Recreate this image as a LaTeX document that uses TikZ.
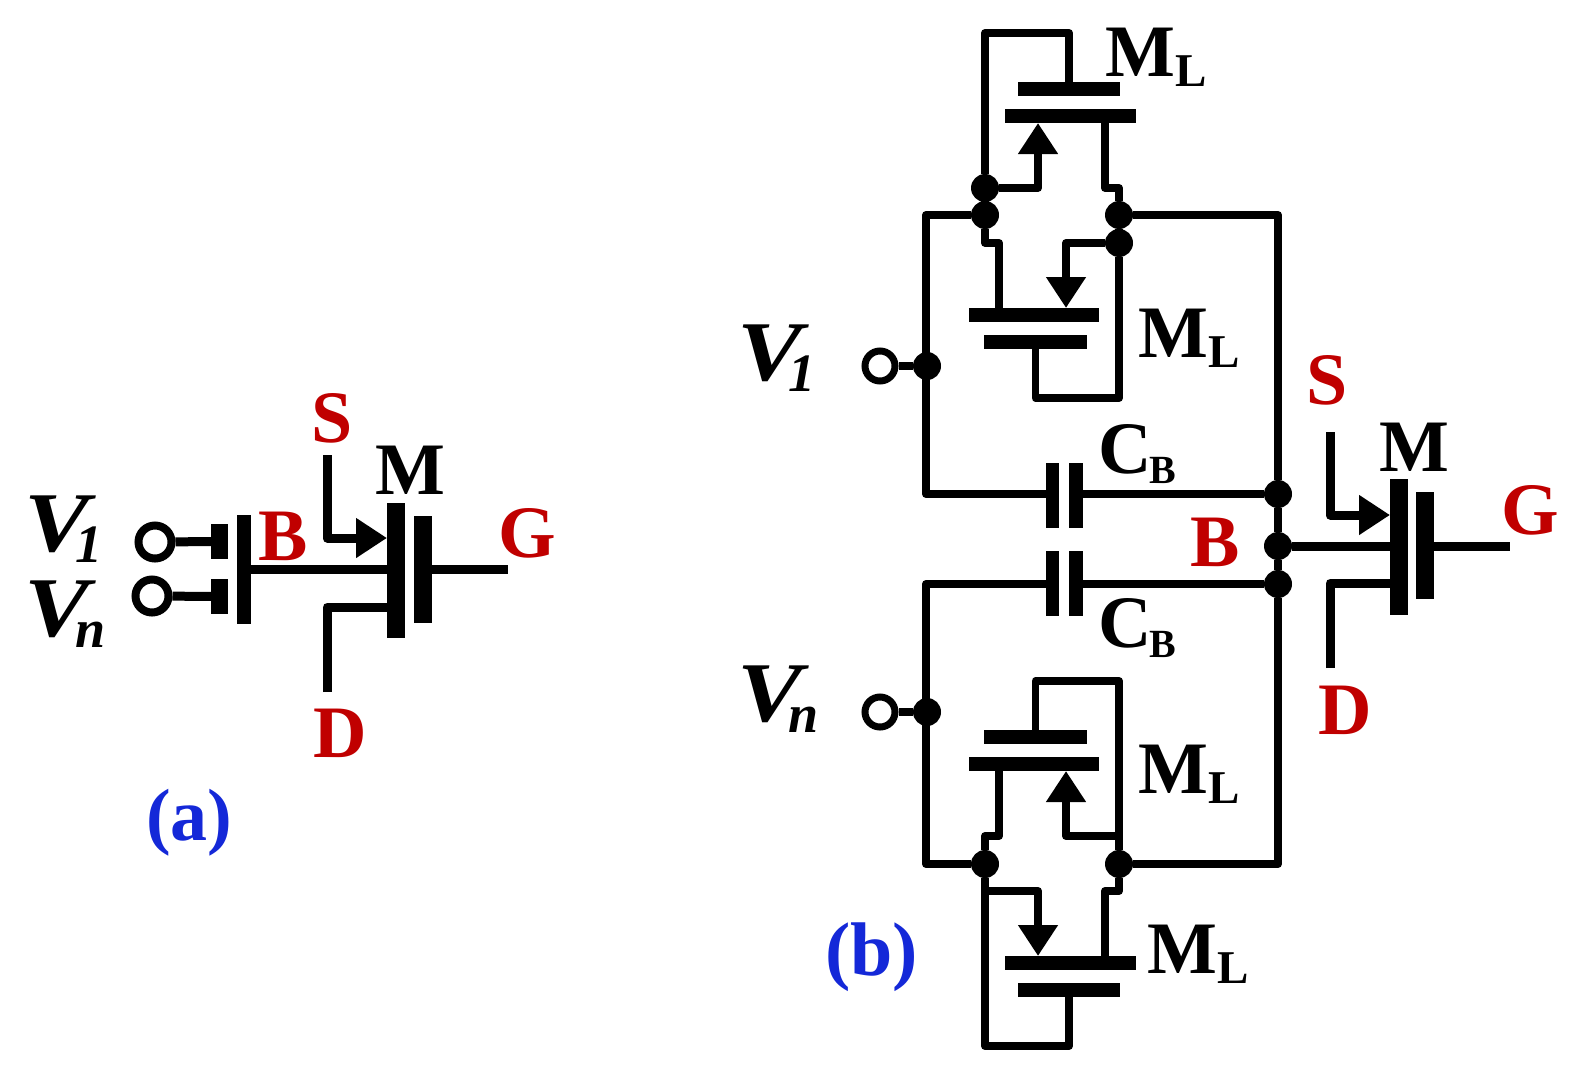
\documentclass[tikz,border=0pt]{standalone}
\usepackage{fontspec}
\setmainfont{Liberation Serif}
\usetikzlibrary{arrows.meta,positioning}
\definecolor{termred}{HTML}{C00000}
\definecolor{capblue}{HTML}{1428D8}
\newcommand{\MLtext}[2]{\fontsize{74}{74}\selectfont #1\raisebox{-10pt}{\fontsize{47}{47}\selectfont #2}}
\newcommand{\CBtext}[2]{\fontsize{74}{74}\selectfont #1\hspace{-2pt}\raisebox{-10pt}{\fontsize{40}{40}\selectfont #2}}
\newcommand{\Vtext}[1]{\fontsize{85}{85}\selectfont\itshape\scalebox{1.15}[1]{V}\hspace{-14pt}\raisebox{-11pt}{\fontsize{54}{54}\selectfont #1}}
\tikzset{
	wire/.style={line width=7.8pt,line join=round},
	wirethick/.style={line width=9pt,line join=round},
	plate/.style={fill=black,inner sep=0pt,outer sep=0pt},
	dot/.style={circle,fill=black,inner sep=0pt,minimum size=28pt},
	port/.style={circle,draw=black,fill=white,line width=7pt,inner sep=0pt,minimum size=30pt},
	portbig/.style={port,line width=8pt,minimum size=33pt},
	txt/.style={anchor=base west,inner sep=0pt,font=\bfseries\fontsize{74}{74}\selectfont},
	term/.style={txt,text=termred},
	caption/.style={txt,text=capblue},
	tip/.style={-{Triangle[length=31pt,width=38pt]}},
}
\begin{document}
\begin{tikzpicture}[x=1pt,y=-1pt]
	\useasboundingbox (0,0) rectangle (1581,1073);

	% (a)
	\node[plate,minimum width=14pt,minimum height=109pt] (bodyA) at (244,569.5) {};
	\node[plate,minimum width=18pt,minimum height=135pt] (chanA) at (396,570.5) {};
	\node[plate,minimum width=18pt,minimum height=107pt] (gateA) at (423,569.5) {};
	\node[plate,minimum width=17pt,minimum height=35pt] (tabOneA) at (219.5,541.5) {};
	\node[plate,minimum width=17pt,minimum height=35pt] (tabTwoA) at (219.5,596.5) {};
	\node[portbig] (portOneA) at (155,542) {};
	\node[portbig] (portTwoA) at (152,596) {};
	\coordinate (sTopA) at (327,455);
	\coordinate (sTipA) at (387,538);
	\coordinate (dEndA) at (327,692);
	\coordinate (dGateA) at (387,607);
	\coordinate (gEndA) at (508,569);
	\coordinate (busA) at (0,569);
	\draw[wirethick] (bodyA.east |- busA) -- (chanA.west |- busA);
	\draw[wirethick] (gateA.east |- busA) -- (gEndA);
	\draw[wirethick] (portOneA) -- (tabOneA);
	\draw[wirethick] (portTwoA) -- (tabTwoA);
	\draw[wirethick,tip] (sTopA) |- (sTipA);
	\draw[wirethick] (dEndA) |- (dGateA);

	\node[term] (sA) at (311,442) {S};
	\node[txt] (mA) at (375,494) {M};
	\node[term] (bA) at (258,560) {B};
	\node[term] (gA) at (498,557) {G};
	\node[term] (dA) at (313,757) {D};
	\node[txt] (vOneA) at (24,551) {\Vtext{1}};
	\node[txt] (vTwoA) at (24,636) {\Vtext{n}};
	\node[caption,font=\bfseries\fontsize{74}{74}\selectfont] (capA) at (146,840) {(a)};

	% (b) rails and caps
	\node[dot] (railTL) at (985,215) {};
	\node[dot] (railTR) at (1119,215) {};
	\node[dot] (railBL) at (985,864) {};
	\node[dot] (railBR) at (1119,864) {};
	\node[dot] (inOne) at (927,366) {};
	\node[dot] (inTwo) at (927,712) {};
	\node[port] (portOne) at (880,366) {};
	\node[port] (portTwo) at (880,712) {};
	\node[dot] (capTop) at (1278,494) {};
	\node[dot] (bus) at (1278,546) {};
	\node[dot] (capBot) at (1278,584) {};
	\node[plate,minimum width=13pt,minimum height=65pt] (capTopL) at (1052.5,495.5) {};
	\node[plate,minimum width=14pt,minimum height=65pt] (capTopR) at (1076,495.5) {};
	\node[plate,minimum width=13pt,minimum height=65pt] (capBotL) at (1052.5,583.5) {};
	\node[plate,minimum width=14pt,minimum height=65pt] (capBotR) at (1076,583.5) {};
	\coordinate (leftTop) at (926,494);
	\coordinate (leftBot) at (926,584);
	\draw[wire] (railTL) -| (leftTop) -- (capTopL.center |- leftTop);
	\draw[wire] (capTopR.center |- capTop) -- (capTop);
	\draw[wire] (railBL) -| (leftBot) -- (capBotL.center |- leftBot);
	\draw[wire] (capBotR.center |- capBot) -- (capBot);
	\draw[wire] (railTR) -| (capTop);
	\draw[wire] (capTop) -- (bus);
	\draw[wire] (bus) -- (capBot);
	\draw[wire] (railBR) -| (capBot);
	\draw[wire] (portOne) -- (inOne);
	\draw[wire] (portTwo) -- (inTwo);

	% top ML
	\node[dot] (topL) at (985,188) {};
	\node[dot] (midR) at (1119,243) {};
	\node[plate,minimum width=102pt,minimum height=14pt] (gtOne) at (1069,89) {};
	\node[plate,minimum width=131pt,minimum height=14pt] (chOne) at (1070.5,116) {};
	\coordinate (loopOne) at (985,33);
	\coordinate (tipOne) at (1038,123);
	\coordinate (drOne) at (1105,123);
	\coordinate (jogOne) at (1119,188);
	\draw[wire] (topL) -- (loopOne) -| (gtOne.center);
	\draw[wire,tip] (topL) -| (tipOne);
	\draw[wire] (drOne) |- (jogOne) -- (railTR);
	\draw[wire] (topL) -- (railTL);
	\draw[wire] (railTR) -- (midR);

	% second ML
	\node[plate,minimum width=130pt,minimum height=14pt] (chTwo) at (1034,315) {};
	\node[plate,minimum width=103pt,minimum height=14pt] (gtTwo) at (1035.5,342) {};
	\coordinate (jogTwo) at (985,243);
	\coordinate (drTwo) at (999,308);
	\coordinate (tipTwo) at (1066,308);
	\coordinate (loopTwo) at (1119,398);
	\draw[wire] (railTL) -- (jogTwo) -| (drTwo);
	\draw[wire,tip] (midR) -| (tipTwo);
	\draw[wire] (midR) -- (loopTwo) -| (gtTwo.center);

	% third ML
	\node[plate,minimum width=103pt,minimum height=14pt] (gtThree) at (1035.5,737) {};
	\node[plate,minimum width=130pt,minimum height=14pt] (chThree) at (1034,764) {};
	\coordinate (loopThree) at (1119,681);
	\coordinate (jogThree) at (985,836);
	\coordinate (drThree) at (999,771);
	\coordinate (srcThree) at (1119,836);
	\coordinate (tipThree) at (1066,771);
	\draw[wire] (railBR) -- (loopThree) -| (gtThree.center);
	\draw[wire] (railBL) -- (jogThree) -| (drThree);
	\draw[wire,tip] (srcThree) -| (tipThree);

	% bottom ML
	\node[plate,minimum width=131pt,minimum height=14pt] (chFour) at (1070.5,963) {};
	\node[plate,minimum width=102pt,minimum height=14pt] (gtFour) at (1069,990) {};
	\coordinate (loopFour) at (985,1046);
	\coordinate (srcFour) at (985,891);
	\coordinate (tipFour) at (1038,956);
	\coordinate (drFour) at (1105,956);
	\coordinate (jogFour) at (1119,891);
	\draw[wire] (railBL) -- (loopFour) -| (gtFour.center);
	\draw[wire,tip] (srcFour) -| (tipFour);
	\draw[wire] (drFour) |- (jogFour) -- (railBR);

	% main M
	\node[plate,minimum width=18pt,minimum height=136pt] (chanB) at (1399,547) {};
	\node[plate,minimum width=18pt,minimum height=107pt] (gateB) at (1425,545.5) {};
	\coordinate (sTopB) at (1330,432);
	\coordinate (sTipB) at (1390,515);
	\coordinate (dEndB) at (1330,668);
	\coordinate (dGateB) at (1390,583);
	\coordinate (gEndB) at (1510,546);
	\draw[wirethick] (bus) -- (bus -| chanB.west);
	\draw[wirethick] (gateB.east |- bus) -- (gEndB);
	\draw[wirethick,tip] (sTopB) |- (sTipB);
	\draw[wirethick] (dEndB) |- (dGateB);

	\node[txt] (mlOne) at (1105,76) {\MLtext{M}{L}};
	\node[txt] (mlTwo) at (1138,357) {\MLtext{M}{L}};
	\node[txt] (mlThree) at (1138,793) {\MLtext{M}{L}};
	\node[txt] (mlFour) at (1147,973) {\MLtext{M}{L}};
	\node[txt] (cbOne) at (1098,473) {\CBtext{C}{B}};
	\node[txt] (cbTwo) at (1098,647) {\CBtext{C}{B}};
	\node[term] (sB) at (1306,404) {S};
	\node[txt] (mB) at (1379,471) {M};
	\node[term] (bB) at (1190,566) {B};
	\node[term] (gB) at (1501,534) {G};
	\node[term] (dB) at (1318,734) {D};
	\node[txt] (vOneB) at (737,380) {\Vtext{1}};
	\node[txt] (vTwoB) at (737,721) {\Vtext{n}};
	\node[caption,font=\bfseries\fontsize{76}{76}\selectfont] (capB) at (825,975) {(b)};
\end{tikzpicture}
\end{document}
